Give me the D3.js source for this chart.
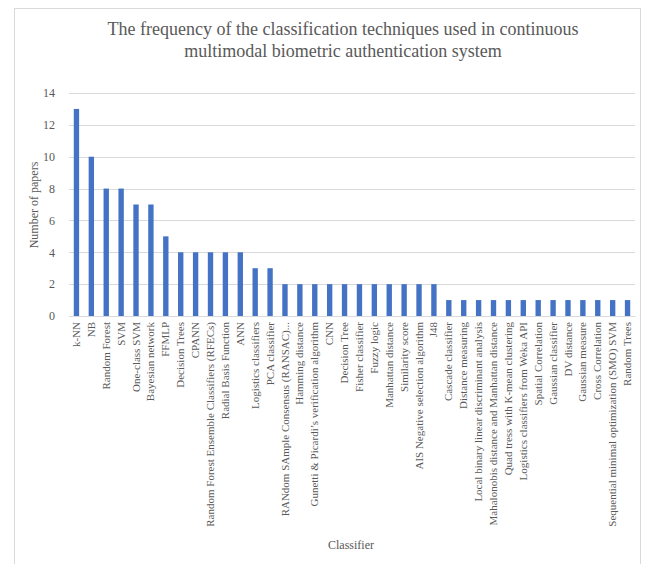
<!DOCTYPE html>
<head>
  <meta charset="utf-8">
  <script src="https://d3js.org/d3.v7.min.js"></script>
  <style>
    body { margin: 0; background: #fff; }
    text { font-family: "Liberation Serif", "Times New Roman", serif; fill: #595959; }
  </style>
</head>
<body>
  <div id="graph"></div>
  <script>
    var classifiers = ["k-NN", "NB", "Random Forest", "SVM", "One-class SVM", "Bayesian network", "FFMLP",
      "Decision Trees", "CPANN", "Random Forest Ensemble Classifiers (RFECs)", "Radial Basis Function", "ANN",
      "Logistics classifiers", "PCA classifier", "RANdom SAmple Consensus (RANSAC)...", "Hamming distance",
      "Gunetti & Picardi\u2019s verification algorithm", "CNN", "Decision Tree", "Fisher classifier", "Fuzzy logic",
      "Manhattan distance", "Similarity score", "AIS Negative selection algorithm", "J48", "Cascade classifier",
      "Distance measuring", "Local binary linear discriminant analysis", "Mahalonobis distance and Manhattan distance",
      "Quad tress with K-mean clustering", "Logistics classifiers from Weka API", "Spatial Correlation",
      "Gaussian classifier", "DV distance", "Gaussian measure", "Cross Correlation",
      "Sequential minimal optimization (SMO) SVM", "Random Trees"];
    var papers = [13, 10, 8, 8, 7, 7, 5, 4, 4, 4, 4, 4, 3, 3, 2, 2, 2, 2, 2, 2, 2, 2, 2, 2, 2,
      1, 1, 1, 1, 1, 1, 1, 1, 1, 1, 1, 1, 1];
    var yTicks = [0, 2, 4, 6, 8, 10, 12, 14];

    var width = 652;
    var height = 564;
    var serif = "'Liberation Serif', 'Times New Roman', serif";
    var svg = d3.select("#graph").append("svg")
      .attr("width", width)
      .attr("height", height);

    // chart frame
    svg.append("rect")
      .attr("x", 14.5).attr("y", 8.5)
      .attr("width", 626).attr("height", 600)
      .attr("fill", "none").attr("stroke", "#d9d9d9");

    var xmin = 69, xmax = 635, ymin = 93, ymax = 316;

    var x = d3.scaleBand()
      .domain(classifiers)
      .range([xmin, xmax])
      .paddingInner(0.64)
      .paddingOuter(0.32);

    var y = d3.scaleLinear()
      .domain([0, 14])
      .range([ymax, ymin]);

    // gridlines
    svg.append("g").selectAll("line")
      .data(yTicks).enter()
      .append("line")
      .attr("x1", xmin).attr("x2", xmax)
      .attr("y1", d => Math.round(y(d)) + 0.5)
      .attr("y2", d => Math.round(y(d)) + 0.5)
      .attr("stroke", "#d9d9d9");

    var yAxis = d3.axisLeft(y).tickValues(yTicks).tickSize(0).tickPadding(14);
    svg.append("g")
      .attr("transform", "translate(" + xmin + ",0)")
      .call(yAxis)
      .call(g => g.select(".domain").remove())
      .selectAll("text")
      .style("font-size", "12px")
      .style("font-family", serif)
      .attr("fill", "#595959");

    // bars
    svg.append("g").selectAll("rect")
      .data(papers).enter()
      .append("rect")
      .attr("x", (d, i) => x(classifiers[i]))
      .attr("y", d => y(d))
      .attr("width", x.bandwidth())
      .attr("height", d => ymax - y(d))
      .attr("fill", "#4472c4");

    var xAxis = d3.axisBottom(x).tickSize(0).tickPadding(6);
    svg.append("g")
      .attr("transform", "translate(0," + ymax + ")")
      .call(xAxis)
      .call(g => g.select(".domain").attr("stroke", "#d9d9d9"))
      .selectAll("text")
      .style("font-size", "11px")
      .style("font-family", serif)
      .attr("fill", "#595959")
      .attr("transform", "rotate(-90)")
      .attr("text-anchor", "end")
      .attr("x", -6)
      .attr("y", 0)
      .attr("dy", "0.32em");

    // titles
    var title = svg.append("text")
      .attr("text-anchor", "middle")
      .style("font-family", serif)
      .style("font-size", "18px");
    title.append("tspan").attr("x", 343).attr("y", 35)
      .text("The frequency of the classification techniques used in continuous");
    title.append("tspan").attr("x", 343).attr("y", 57)
      .text("multimodal biometric authentication system");

    svg.append("text")
      .attr("transform", "translate(38,205) rotate(-90)")
      .attr("text-anchor", "middle")
      .style("font-family", serif)
      .style("font-size", "12px")
      .text("Number of papers");

    svg.append("text")
      .attr("x", 351).attr("y", 549)
      .attr("text-anchor", "middle")
      .style("font-family", serif)
      .style("font-size", "12px")
      .text("Classifier");
  </script>
</body>
